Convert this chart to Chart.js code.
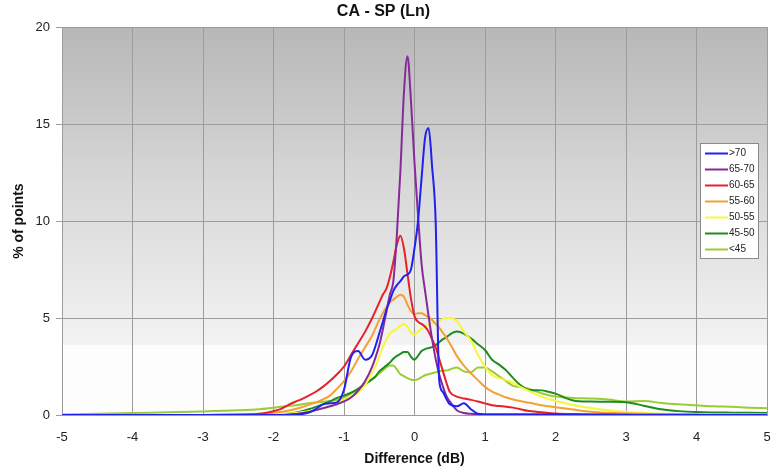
<!DOCTYPE html>
<html>
<head>
<meta charset="utf-8">
<script src="https://cdn.jsdelivr.net/npm/chart.js@4"></script>
<style>
html,body{margin:0;padding:0;background:#fff;}
#wrap{width:774px;height:470px;position:relative;}
</style>
</head>
<body>
<div id="wrap"><canvas id="c" width="774" height="470"></canvas></div>
<script>
// x grid (dB difference)
const diffDb = [
  -5, -4.5, -4, -3.5, -3, -2.5, -2.2,
  -2.0, -1.9, -1.8, -1.7, -1.6, -1.5, -1.4, -1.3, -1.2, -1.1, -1.0, -0.9, -0.8, -0.7, -0.6,
  -0.55, -0.5, -0.45, -0.4, -0.35, -0.3, -0.25, -0.2, -0.15, -0.1, -0.05, 0, 0.05, 0.1, 0.15, 0.2, 0.25, 0.3, 0.35, 0.4, 0.45, 0.5,
  0.6, 0.7, 0.8, 0.9, 1.0, 1.1, 1.2, 1.3, 1.4, 1.5, 1.6, 1.7, 1.8, 1.9, 2.0,
  2.25, 2.5, 2.75, 3.0, 3.25, 3.5, 3.75, 4.0, 4.25, 4.5, 4.75, 5.0
];
const seriesLabels = ['>70', '65-70', '60-65', '55-60', '50-55', '45-50', '<45'];
const seriesColors = ['#2020f0', '#862a9a', '#e8202a', '#f5a030', '#f6f63c', '#1e8c1e', '#9acd32'];

const gt70 = [
  0, 0, 0, 0, 0, 0, 0,
  0, 0, 0, 0.02, 0.05, 0.12, 0.3, 0.55, 0.6, 0.65, 1.3, 3.0, 3.3, 2.85, 3.1,
  3.6, 4.2, 4.8, 5.4, 5.9, 6.4, 6.7, 6.9, 7.15, 7.25, 7.5, 8.6, 10.0, 12.2, 14.3, 14.8, 12.8, 10.0, 1.8, 1.2, 0.85, 0.55,
  0.45, 0.6, 0.3, 0.06, 0.03, 0.02, 0.02, 0.02, 0.02, 0.02, 0.02, 0.02, 0.02, 0.02, 0.02,
  0.01, 0.01, 0.01, 0, 0, 0, 0, 0, 0, 0, 0, 0
];
const r65_70 = [
  0, 0, 0, 0, 0, 0, 0,
  0, 0, 0.02, 0.05, 0.1, 0.15, 0.25, 0.35, 0.45, 0.55, 0.7, 0.9, 1.25, 1.75, 2.5,
  3.0, 3.6, 4.4, 5.3, 6.2, 6.9, 9.3, 12.6, 16.6, 18.5, 16.2, 13.0, 10.3, 7.8, 6.4, 5.1, 3.9, 2.9, 2.1, 1.5, 1.0, 0.7,
  0.25, 0.1, 0.06, 0.04, 0.03, 0.02, 0.02, 0.02, 0.02, 0.02, 0.02, 0.02, 0.02, 0.02, 0.02,
  0.01, 0.01, 0.01, 0, 0, 0, 0, 0, 0, 0, 0, 0
];
const r60_65 = [
  0, 0, 0, 0, 0, 0.02, 0.06,
  0.2, 0.3, 0.5, 0.67, 0.82, 1.0, 1.2, 1.45, 1.75, 2.1, 2.5, 3.1, 3.7, 4.3, 5.0,
  5.4, 5.8, 6.2, 6.5, 7.1, 7.9, 8.8, 9.25, 8.6, 7.3, 6.0, 5.1, 4.8, 4.7, 4.55, 4.3, 3.9, 3.5, 2.9, 2.3, 1.7, 1.2,
  0.95, 0.85, 0.78, 0.7, 0.6, 0.5, 0.46, 0.43, 0.38, 0.3, 0.22, 0.18, 0.14, 0.1, 0.08,
  0.05, 0.03, 0.02, 0.02, 0.01, 0.01, 0.01, 0.01, 0, 0, 0, 0
];
const r55_60 = [
  0, 0, 0, 0, 0, 0.02, 0.06,
  0.12, 0.16, 0.22, 0.3, 0.4, 0.52, 0.65, 0.8, 1.0, 1.35, 1.75, 2.25, 2.9, 3.5, 4.1,
  4.5, 4.9, 5.25, 5.55, 5.8, 5.95, 6.1, 6.2, 6.1, 5.7, 5.35, 5.2, 5.25, 5.25, 5.15, 5.05, 4.9, 4.7, 4.5, 4.25, 4.0, 3.7,
  3.05, 2.55, 2.15, 1.8, 1.45, 1.2, 1.05, 0.9, 0.8, 0.72, 0.65, 0.58, 0.5, 0.45, 0.4,
  0.28, 0.17, 0.11, 0.08, 0.06, 0.05, 0.04, 0.03, 0.03, 0.03, 0.02, 0.02
];
const r50_55 = [
  0, 0, 0, 0, 0, 0, 0.02,
  0.05, 0.06, 0.08, 0.1, 0.15, 0.2, 0.26, 0.33, 0.42, 0.6, 0.8, 0.95, 1.15, 1.55, 2.2,
  2.55, 3.0, 3.5, 3.9, 4.2, 4.35, 4.45, 4.6, 4.7, 4.55, 4.25, 4.15, 4.3, 4.45, 4.55, 4.65, 4.75, 4.8, 4.85, 4.95, 5.0, 5.0,
  4.85, 4.3, 3.85, 3.1, 2.5, 2.05, 1.9, 1.8, 1.65, 1.45, 1.28, 1.1, 0.95, 0.83, 0.72,
  0.52, 0.36, 0.24, 0.15, 0.1, 0.07, 0.05, 0.04, 0.03, 0.03, 0.03, 0.03
];
const r45_50 = [
  0, 0, 0, 0, 0, 0, 0.02,
  0.04, 0.05, 0.07, 0.12, 0.2, 0.3, 0.42, 0.55, 0.7, 0.88, 1.0, 1.15, 1.35, 1.6, 1.85,
  2.0, 2.25, 2.4, 2.55, 2.7, 2.9, 3.05, 3.15, 3.25, 3.25, 3.0, 2.85, 3.05, 3.3, 3.4, 3.45, 3.5, 3.6, 3.75, 3.9, 4.0, 4.15,
  4.3, 4.2, 3.95, 3.65, 3.35, 2.85, 2.6, 2.3, 1.9, 1.55, 1.32, 1.28, 1.27, 1.2, 1.1,
  0.75, 0.69, 0.68, 0.66, 0.48, 0.3, 0.2, 0.15, 0.13, 0.12, 0.11, 0.1
];
const lt45 = [
  0.02, 0.06, 0.1, 0.14, 0.18, 0.24, 0.3,
  0.38, 0.42, 0.46, 0.5, 0.55, 0.6, 0.64, 0.68, 0.72, 0.78, 0.9, 1.1, 1.35, 1.6, 1.85,
  2.0, 2.15, 2.3, 2.45, 2.55, 2.55, 2.35, 2.1, 2.0, 1.9, 1.82, 1.8, 1.85, 1.95, 2.05, 2.1, 2.15, 2.2, 2.25, 2.3, 2.3, 2.35,
  2.45, 2.25, 2.2, 2.45, 2.45, 2.25, 2.0, 1.75, 1.5, 1.45, 1.38, 1.25, 1.12, 1.02, 0.95,
  0.88, 0.85, 0.8, 0.7, 0.72, 0.62, 0.55, 0.5, 0.45, 0.42, 0.38, 0.35
];
const seriesValues = [gt70, r65_70, r60_65, r55_60, r50_55, r45_50, lt45];

const FONT = "'Liberation Sans', Arial, sans-serif";
Chart.defaults.font.family = FONT;
Chart.defaults.color = '#222';

const bgPlugin = {
  id: 'bgGrad',
  beforeDraw(chart) {
    const {ctx, chartArea: a} = chart;
    if (!a) return;
    ctx.save();
    const split = a.top + (a.bottom - a.top) * 0.82;
    const g = ctx.createLinearGradient(0, a.top, 0, split);
    g.addColorStop(0, '#b7b7b7');
    g.addColorStop(0.5, '#d8d8d8');
    g.addColorStop(1, '#f3f3f3');
    ctx.fillStyle = g;
    ctx.fillRect(a.left, a.top, a.right - a.left, split - a.top);
    ctx.fillStyle = '#fdfdfd';
    ctx.fillRect(a.left, split, a.right - a.left, a.bottom - split);
    ctx.restore();
  }
};

const legendPlugin = {
  id: 'boxLegend',
  afterDatasetsDraw(chart) {
    const {ctx} = chart;
    const x0 = 700, y0 = 143, w = 58, h = 115;
    ctx.save();
    ctx.fillStyle = '#ffffff';
    ctx.fillRect(x0, y0, w, h);
    ctx.strokeStyle = '#8a8a8a';
    ctx.lineWidth = 1;
    ctx.strokeRect(x0 + 0.5, y0 + 0.5, w, h);
    ctx.font = '10px ' + FONT;
    ctx.textBaseline = 'middle';
    ctx.textAlign = 'left';
    chart.data.datasets.forEach((ds, i) => {
      const y = y0 + 10.5 + i * 16;
      ctx.strokeStyle = ds.borderColor;
      ctx.lineWidth = 2;
      ctx.beginPath();
      ctx.moveTo(x0 + 5, y);
      ctx.lineTo(x0 + 28, y);
      ctx.stroke();
      ctx.fillStyle = '#222';
      ctx.fillText(ds.label, x0 + 29, y);
    });
    ctx.restore();
  }
};

const datasets = seriesLabels.map((label, k) => ({
  label,
  data: diffDb.map((x, i) => ({x, y: seriesValues[k][i]})),
  borderColor: seriesColors[k],
  backgroundColor: seriesColors[k],
  borderWidth: 2,
  pointRadius: 0,
  fill: false,
  cubicInterpolationMode: 'monotone'
}));

new Chart(document.getElementById('c'), {
  type: 'line',
  data: {datasets},
  plugins: [bgPlugin, legendPlugin],
  options: {
    responsive: false,
    animation: false,
    devicePixelRatio: 1,
    layout: {padding: {left: 0, right: 7, top: 0, bottom: 0}},
    plugins: {
      legend: {display: false},
      tooltip: {enabled: false},
      title: {
        display: true,
        text: 'CA - SP (Ln)',
        font: {size: 16, weight: 'bold', family: FONT},
        color: '#111',
        padding: {top: 2, bottom: 6}
      }
    },
    scales: {
      x: {
        type: 'linear',
        min: -5, max: 5,
        ticks: {stepSize: 1, font: {size: 13}, color: '#222', padding: 15},
        grid: {color: '#9c9c9c', drawTicks: false},
        border: {color: '#9c9c9c'},
        title: {display: true, text: 'Difference (dB)', font: {size: 14, weight: 'bold'}, color: '#111', padding: {top: 0, bottom: 2}},
        afterFit(s) { s.height = 55; s.paddingLeft = 0; s.paddingRight = 0; }
      },
      y: {
        type: 'linear',
        min: 0, max: 20,
        ticks: {stepSize: 5, font: {size: 13}, color: '#222', padding: 6},
        grid: {color: '#9c9c9c', tickLength: 6},
        border: {color: '#9c9c9c'},
        title: {display: true, text: '% of points', font: {size: 14, weight: 'bold'}, color: '#111', padding: {top: 11, bottom: 0}},
        afterFit(s) { s.width = 62; }
      }
    }
  }
});
</script>
</body>
</html>
